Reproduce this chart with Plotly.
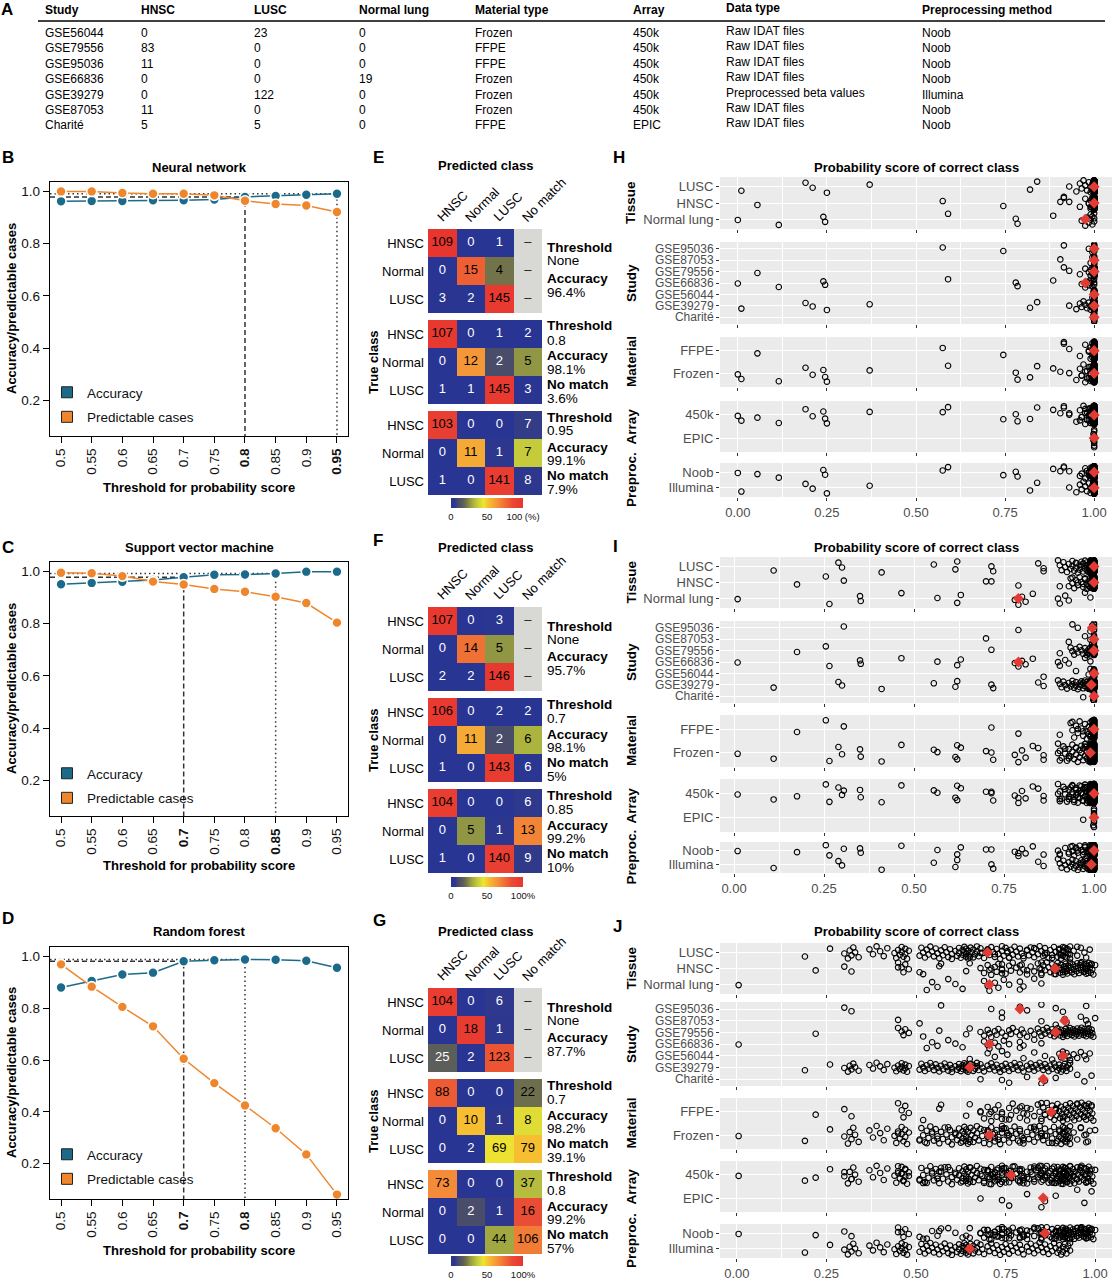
import numpy as np
import plotly.graph_objects as go

W, H = 1112, 1280
FONT = "Liberation Sans, Arial, Helvetica, sans-serif"
TEAL = "#1b6a8a"
ORANGE = "#f0862c"
RED = "#e23b33"
PANEL_BG = "#ebebeb"
GREY_TXT = "#4d4d4d"

# ---------------- Panel A: study table ----------------
TABLE_HEADER = ["Study", "HNSC", "LUSC", "Normal lung", "Material type",
                "Array", "Data type", "Preprocessing method"]
STUDIES = ["GSE56044", "GSE79556", "GSE95036", "GSE66836", "GSE39279", "GSE87053", "Charité"]
N_HNSC = [0, 83, 11, 0, 0, 11, 5]
N_LUSC = [23, 0, 0, 0, 122, 0, 5]
N_NORMAL = [0, 0, 0, 19, 0, 0, 0]
MATERIAL = ["Frozen", "FFPE", "FFPE", "Frozen", "Frozen", "Frozen", "FFPE"]
ARRAY = ["450k", "450k", "450k", "450k", "450k", "450k", "EPIC"]
DATA_TYPE = ["Raw IDAT files", "Raw IDAT files", "Raw IDAT files", "Raw IDAT files",
             "Preprocessed beta values", "Raw IDAT files", "Raw IDAT files"]
PREPROC = ["Noob", "Noob", "Noob", "Noob", "Illumina", "Noob", "Noob"]

# ---------------- Panels B-D: threshold curves ----------------
THRESHOLDS = [0.5, 0.55, 0.6, 0.65, 0.7, 0.75, 0.8, 0.85, 0.9, 0.95]
THRESHOLD_LABELS = ["0.5", "0.55", "0.6", "0.65", "0.7", "0.75", "0.8", "0.85", "0.9", "0.95"]
NN_ACCURACY = [0.962, 0.963, 0.963, 0.966, 0.966, 0.969, 0.979, 0.983, 0.987, 0.991]
NN_PREDICTABLE = [1.0, 1.0, 0.994, 0.991, 0.991, 0.985, 0.964, 0.952, 0.946, 0.921]
NN_SELECTED = [0.8, 0.95]
SVM_ACCURACY = [0.951, 0.956, 0.960, 0.967, 0.978, 0.987, 0.988, 0.992, 0.999, 0.999]
SVM_PREDICTABLE = [0.995, 0.993, 0.982, 0.961, 0.950, 0.933, 0.922, 0.903, 0.879, 0.804]
SVM_SELECTED = [0.7, 0.85]
RF_ACCURACY = [0.880, 0.905, 0.930, 0.937, 0.981, 0.985, 0.988, 0.987, 0.983, 0.956]
RF_PREDICTABLE = [0.969, 0.883, 0.805, 0.730, 0.605, 0.511, 0.425, 0.337, 0.236, 0.081]
RF_SELECTED = [0.7, 0.8]

# ---------------- Panels E-G: confusion matrices ----------------
CM_COLS = ["HNSC", "Normal", "LUSC", "No match"]
CM_ROWS = ["HNSC", "Normal", "LUSC"]
NN_CM = [
    [[109, 0, 1, None], [0, 15, 4, None], [3, 2, 145, None]],
    [[107, 0, 1, 2], [0, 12, 2, 5], [1, 1, 145, 3]],
    [[103, 0, 0, 7], [0, 11, 1, 7], [1, 0, 141, 8]],
]
NN_CM_THRESHOLD = ["None", "0.8", "0.95"]
NN_CM_ACCURACY = ["96.4%", "98.1%", "99.1%"]
NN_CM_NOMATCH = [None, "3.6%", "7.9%"]
SVM_CM = [
    [[107, 0, 3, None], [0, 14, 5, None], [2, 2, 146, None]],
    [[106, 0, 2, 2], [0, 11, 2, 6], [1, 0, 143, 6]],
    [[104, 0, 0, 6], [0, 5, 1, 13], [1, 0, 140, 9]],
]
SVM_CM_THRESHOLD = ["None", "0.7", "0.85"]
SVM_CM_ACCURACY = ["95.7%", "98.1%", "99.2%"]
SVM_CM_NOMATCH = [None, "5%", "10%"]
RF_CM = [
    [[104, 0, 6, None], [0, 18, 1, None], [25, 2, 123, None]],
    [[88, 0, 0, 22], [0, 10, 1, 8], [0, 2, 69, 79]],
    [[73, 0, 0, 37], [0, 2, 1, 16], [0, 0, 44, 106]],
]
RF_CM_THRESHOLD = ["None", "0.7", "0.8"]
RF_CM_ACCURACY = ["87.7%", "98.2%", "99.2%"]
RF_CM_NOMATCH = [None, "39.1%", "57%"]

# ---------------- Panels H-J: probability score of correct class ----------------
# Neural network
NN_GSE56044 = [0.995, 0.998] + [1.0] * 21
NN_GSE79556 = [0.055, 0.915, 0.93, 0.96, 0.975, 0.985, 0.99, 0.99, 0.995, 0.995] + [1.0] * 73
NN_GSE95036 = [0.575, 0.745, 0.915, 0.985, 0.995] + [1.0] * 6
NN_GSE66836 = [0.0, 0.115, 0.24, 0.245, 0.59, 0.78, 0.785, 0.885, 0.965, 0.975,
               0.98, 0.985, 0.99, 0.99, 0.995, 0.995, 1.0, 1.0, 1.0]
NN_GSE39279 = [0.01, 0.19, 0.21, 0.25, 0.37, 0.82, 0.84, 0.93, 0.95, 0.96, 0.965, 0.97,
               0.975, 0.98, 0.985, 0.99, 0.99, 0.995, 0.995, 0.998] + [1.0] * 102
NN_GSE87053 = [0.905, 0.99, 0.995] + [1.0] * 8
NN_CHARITE_HNSC = [0.998, 1.0, 1.0, 1.0, 1.0]
NN_CHARITE_LUSC = [1.0, 1.0, 0.998, 1.0, 1.0]
# Support vector machine
SVM_GSE56044 = [0.86, 0.95, 0.985, 0.99, 0.995] + [1.0] * 18
SVM_GSE79556 = [0.175, 0.255, 0.715, 0.905, 0.935, 0.94, 0.945, 0.95, 0.955, 0.96, 0.965,
                0.97, 0.975, 0.98, 0.98, 0.985, 0.985, 0.99, 0.99, 0.99, 0.995, 0.995,
                0.995] + [1.0] * 60
SVM_GSE95036 = [0.305, 0.79, 0.94, 0.955, 0.99, 0.995] + [1.0] * 5
SVM_GSE66836 = [0.01, 0.265, 0.35, 0.352, 0.465, 0.565, 0.62, 0.63, 0.78, 0.79, 0.80,
                0.81, 0.83, 0.90, 0.905, 0.92, 0.93, 0.975, 0.99]
SVM_GSE39279 = [0.11, 0.29, 0.30, 0.41, 0.555, 0.615, 0.62, 0.715, 0.72, 0.845, 0.86,
                0.90, 0.905, 0.91, 0.915, 0.92, 0.925, 0.93, 0.935, 0.94, 0.94, 0.945,
                0.95, 0.95, 0.955, 0.96, 0.96, 0.965, 0.965, 0.97, 0.97, 0.975, 0.975,
                0.98, 0.98, 0.98, 0.985, 0.985, 0.985] + [0.99] * 22 + [0.995] * 4 + [1.0] * 57
SVM_GSE87053 = [0.70, 0.93, 0.975, 0.99, 0.995] + [1.0] * 6
SVM_CHARITE_HNSC = [0.97, 1.0, 1.0, 1.0, 1.0]
SVM_CHARITE_LUSC = [1.0, 0.998, 1.0, 1.0, 1.0]
# Random forest
RF_GSE56044 = [0.65, 0.70, 0.72, 0.74, 0.755, 0.80, 0.83, 0.86, 0.88, 0.90, 0.905, 0.91,
               0.912, 0.915, 0.92, 0.925, 0.93, 0.94, 0.95, 0.96, 0.97, 0.975, 0.985]
RF_GSE79556 = [0.22, 0.45, 0.46, 0.465, 0.47, 0.48, 0.52, 0.565, 0.64, 0.65, 0.68, 0.69,
               0.70, 0.705, 0.71, 0.72, 0.725, 0.73, 0.74, 0.75, 0.76, 0.765, 0.77, 0.78,
               0.79, 0.795, 0.80, 0.81, 0.82, 0.83, 0.84, 0.845, 0.85, 0.855, 0.86, 0.865,
               0.87, 0.875, 0.88, 0.883, 0.886, 0.89, 0.892, 0.895, 0.90, 0.902, 0.905,
               0.908, 0.91, 0.912, 0.915, 0.918, 0.92, 0.922, 0.925, 0.928, 0.93, 0.932,
               0.935, 0.938, 0.94, 0.942, 0.945, 0.948, 0.95, 0.952, 0.955, 0.958, 0.96,
               0.962, 0.965, 0.968, 0.97, 0.972, 0.975, 0.978, 0.98, 0.982, 0.985, 0.988,
               0.99, 0.992, 0.995]
RF_GSE95036 = [0.30, 0.32, 0.57, 0.71, 0.74, 0.79, 0.81, 0.85, 0.89, 0.91, 0.975]
RF_GSE66836 = [0.005, 0.53, 0.545, 0.56, 0.59, 0.61, 0.63, 0.69, 0.70, 0.705, 0.72, 0.73,
               0.745, 0.76, 0.79, 0.79, 0.80, 0.83, 0.85]
RF_GSE39279 = [0.19, 0.26, 0.30, 0.31, 0.315, 0.32, 0.325, 0.33, 0.34, 0.37, 0.38, 0.39,
               0.40, 0.41, 0.42, 0.44, 0.445, 0.45, 0.455, 0.46, 0.46, 0.465, 0.47, 0.47,
               0.475, 0.48, 0.51, 0.515, 0.52, 0.525, 0.53, 0.535, 0.54, 0.545, 0.55,
               0.555, 0.56, 0.565, 0.57, 0.575, 0.58, 0.585, 0.59, 0.595, 0.60, 0.60,
               0.61, 0.615, 0.62, 0.62, 0.625, 0.63, 0.63, 0.635, 0.635, 0.64, 0.64, 0.64,
               0.645, 0.645, 0.648, 0.652, 0.655, 0.66, 0.66, 0.665, 0.67, 0.67, 0.675,
               0.68, 0.685, 0.69, 0.70, 0.705, 0.71, 0.715, 0.72, 0.725, 0.73, 0.735, 0.74,
               0.745, 0.75, 0.755, 0.76, 0.765, 0.77, 0.775, 0.78, 0.785, 0.79, 0.795, 0.80,
               0.81, 0.815, 0.82, 0.825, 0.83, 0.835, 0.84, 0.845, 0.85, 0.855, 0.86,
               0.865, 0.87, 0.875, 0.88, 0.885, 0.89, 0.895, 0.90, 0.90, 0.905, 0.91,
               0.91, 0.915, 0.92, 0.92, 0.925, 0.93, 0.93]
RF_GSE87053 = [0.45, 0.51, 0.74, 0.85, 0.89, 0.915, 0.92, 0.96, 0.975, 0.98, 1.0]
RF_CHARITE_HNSC = [0.74, 0.85, 0.89, 0.97, 0.99]
RF_CHARITE_LUSC = [0.68, 0.76, 0.81, 0.86, 0.95]

FACETS = [
    ("Tissue", ["Normal lung", "HNSC", "LUSC"]),
    ("Study", ["Charité", "GSE39279", "GSE56044", "GSE66836", "GSE79556", "GSE87053", "GSE95036"]),
    ("Material", ["Frozen", "FFPE"]),
    ("Array", ["EPIC", "450k"]),
    ("Preproc.", ["Illumina", "Noob"]),
]
X_TICKS = [0.0, 0.25, 0.5, 0.75, 1.0]
X_TICKTEXT = ["0.00", "0.25", "0.50", "0.75", "1.00"]
X_MINOR = [0.125, 0.375, 0.625, 0.875]

HEAT_SCALE = [[0.0, "#283593"], [0.05, "#2c3690"], [0.10, "#474c6c"], [0.17, "#5d5f58"],
              [0.22, "#787848"], [0.28, "#9aa242"], [0.36, "#c2c83c"], [0.45, "#ece632"],
              [0.52, "#f6c030"], [0.65, "#f3903a"], [0.75, "#f06c33"], [0.85, "#ea4a35"],
              [1.0, "#e8352f"]]

X_RANGE_LINE = [0.482, 0.968]
Y_RANGE_LINE = [0.064, 1.036]

fig = go.Figure()
AXES, ANN, SHAPES, LEGENDS = {}, [], [], {}
_count = [0]


def new_axes(box, xkw, ykw):
    _count[0] += 1
    i = _count[0]
    sx = "" if i == 1 else str(i)
    x0, y0, x1, y1 = box
    AXES["xaxis" + sx] = dict(domain=[x0 / W, x1 / W], anchor="y" + sx, **xkw)
    AXES["yaxis" + sx] = dict(domain=[1 - y1 / H, 1 - y0 / H], anchor="x" + sx, **ykw)
    return "x" + sx, "y" + sx


def add_text(x, y, s, size=13, bold=False, xanchor="left", yanchor="middle", angle=0, color="black"):
    ANN.append(dict(x=x / W, y=1 - y / H, xref="paper", yref="paper",
                    text=f"<b>{s}</b>" if bold else s, showarrow=False,
                    xanchor=xanchor, yanchor=yanchor, textangle=angle,
                    font=dict(size=size, color=color), borderpad=0))


# ---------------- Panel A ----------------
TABLE_X = [44, 140, 253, 358, 474, 632, 725, 921]
add_text(0, 9, "A", size=17, bold=True)
for j, (cx, h) in enumerate(zip(TABLE_X, TABLE_HEADER)):
    add_text(cx, 10 - (2 if j == 6 else 0), h, size=12, bold=True)
SHAPES.append(dict(type="line", xref="paper", yref="paper", x0=38 / W, x1=1105 / W,
                   y0=1 - 21 / H, y1=1 - 21 / H, line=dict(color="black", width=1.3)))
TABLE_COLUMNS = [STUDIES, N_HNSC, N_LUSC, N_NORMAL, MATERIAL, ARRAY, DATA_TYPE, PREPROC]
for j, col in enumerate(TABLE_COLUMNS):
    for i, v in enumerate(col):
        add_text(TABLE_X[j], 33 + i * 15.4 - (2 if j == 6 else 0), str(v), size=12)

# ---------------- Panels B-D ----------------
LINE_PANELS = [
    dict(letter="B", ly=158, title="Neural network", ty=167, box=(50, 182, 348, 436), xt=487,
         acc=NN_ACCURACY, pred=NN_PREDICTABLE, sel=NN_SELECTED, legend="legend", lg=377),
    dict(letter="C", ly=547, title="Support vector machine", ty=547, box=(50, 562, 348, 816), xt=865,
         acc=SVM_ACCURACY, pred=SVM_PREDICTABLE, sel=SVM_SELECTED, legend="legend2", lg=758),
    dict(letter="D", ly=918, title="Random forest", ty=931, box=(50, 947, 348, 1199), xt=1250,
         acc=RF_ACCURACY, pred=RF_PREDICTABLE, sel=RF_SELECTED, legend="legend3", lg=1139),
]
for p in LINE_PANELS:
    x0, y0, x1, y1 = p["box"]
    ticktext = [f"<b>{l}</b>" if t in p["sel"] else l for t, l in zip(THRESHOLDS, THRESHOLD_LABELS)]
    common = dict(showline=True, mirror=True, linecolor="black", linewidth=1.3, ticks="outside",
                  ticklen=6, tickwidth=1.2, tickcolor="black", showgrid=False, zeroline=False,
                  tickfont=dict(size=13.5, color="#111"))
    xa, ya = new_axes(p["box"],
                      dict(range=X_RANGE_LINE, tickvals=THRESHOLDS, ticktext=ticktext, tickangle=-90, **common),
                      dict(range=Y_RANGE_LINE, tickvals=[0.2, 0.4, 0.6, 0.8, 1.0],
                           ticktext=["0.2", "0.4", "0.6", "0.8", "1.0"], **common))
    for t, dash in zip(p["sel"], ["5px,3px", "1.5px,3px"]):
        a = p["acc"][THRESHOLDS.index(t)]
        fig.add_trace(go.Scatter(x=[X_RANGE_LINE[0], t, t], y=[a, a, Y_RANGE_LINE[0]], mode="lines",
                                 line=dict(color="#333333", width=1.5, dash=dash),
                                 xaxis=xa, yaxis=ya, showlegend=False, hoverinfo="skip"))
    for vals, color in [(p["acc"], TEAL), (p["pred"], ORANGE)]:
        fig.add_trace(go.Scatter(x=THRESHOLDS, y=vals, mode="lines+markers",
                                 line=dict(color=color, width=1.5),
                                 marker=dict(size=10, color=color, line=dict(color="white", width=1.6)),
                                 xaxis=xa, yaxis=ya, showlegend=False, hoverinfo="skip"))
    for name, color in [("Accuracy", TEAL), ("Predictable cases", ORANGE)]:
        fig.add_trace(go.Scatter(x=[None], y=[None], mode="markers", name=name,
                                 marker=dict(symbol="square", size=11, color=color,
                                             line=dict(color="#222", width=1)),
                                 legend=p["legend"], legendgroup=p["legend"] + name,
                                 xaxis=xa, yaxis=ya))
    LEGENDS[p["legend"]] = dict(x=47 / W, y=1 - p["lg"] / H, xanchor="left", yanchor="top",
                                bgcolor="rgba(0,0,0,0)", font=dict(size=13.5, color="#111"),
                                tracegroupgap=4, itemwidth=30)
    add_text(1, p["ly"], p["letter"], size=17, bold=True)
    add_text((x0 + x1) / 2, p["ty"], p["title"], size=13, bold=True, xanchor="center")
    add_text((x0 + x1) / 2, p["xt"], "Threshold for probability score", size=13, bold=True, xanchor="center")
    add_text(11, (y0 + y1) / 2, "Accuracy/predictable cases", size=13, bold=True, xanchor="center", angle=-90)

# ---------------- Panels E-G ----------------
CM_PANELS = [
    dict(letter="E", ly=157, ty=166, blocks=[(229, 313), (320, 404), (411, 495)], cb=498, cbl="100 (%)",
         cms=NN_CM, thr=NN_CM_THRESHOLD, acc=NN_CM_ACCURACY, nm=NN_CM_NOMATCH),
    dict(letter="F", ly=540, ty=547, blocks=[(607, 691), (698, 782), (789, 873)], cb=877, cbl="100%",
         cms=SVM_CM, thr=SVM_CM_THRESHOLD, acc=SVM_CM_ACCURACY, nm=SVM_CM_NOMATCH),
    dict(letter="G", ly=920, ty=931, blocks=[(988, 1072), (1079, 1163), (1170, 1254)], cb=1256, cbl="100%",
         cms=RF_CM, thr=RF_CM_THRESHOLD, acc=RF_CM_ACCURACY, nm=RF_CM_NOMATCH),
]
for p in CM_PANELS:
    first_xa = None
    for b, ((y0, y1), cm) in enumerate(zip(p["blocks"], p["cms"])):
        xa, ya = new_axes((428, y0, 542, y1),
                          dict(type="category", categoryorder="array", categoryarray=CM_COLS,
                               range=[-0.5, 3.5], showticklabels=False, showgrid=False,
                               zeroline=False, showline=False, ticks=""),
                          dict(type="category", categoryorder="array", categoryarray=CM_ROWS[::-1],
                               range=[-0.5, 2.5], showgrid=False, zeroline=False, showline=False,
                               ticks="", ticklabelstandoff=3, tickfont=dict(size=13, color="black")))
        if first_xa is None:
            first_xa = xa
        z, xs, ys, txt, tcol, grey = [], [], [], [], [], []
        for r, row in enumerate(cm):
            total = sum(v for v in row if v is not None)
            zr, gr = [], []
            for c, v in enumerate(row):
                xs.append(CM_COLS[c])
                ys.append(CM_ROWS[r])
                if v is None:
                    zr.append(None)
                    gr.append(1)
                    txt.append("–")
                    tcol.append("#222222")
                else:
                    pct = 100.0 * v / total
                    zr.append(pct)
                    gr.append(None)
                    txt.append(str(v))
                    tcol.append("white" if pct < 18 else "black")
            z.append(zr)
            grey.append(gr)
        if any(g is not None for gr in grey for g in gr):
            fig.add_trace(go.Heatmap(x=CM_COLS, y=CM_ROWS, z=grey, zmin=0, zmax=1,
                                     colorscale=[[0, "#d8d8d5"], [1, "#d8d8d5"]], showscale=False,
                                     xaxis=xa, yaxis=ya, hoverinfo="skip"))
        fig.add_trace(go.Heatmap(
            x=CM_COLS, y=CM_ROWS, z=z, zmin=0, zmax=100, colorscale=HEAT_SCALE,
            showscale=(b == 2), xaxis=xa, yaxis=ya, hoverinfo="skip",
            colorbar=dict(orientation="h", x=487 / W, xanchor="center", y=1 - p["cb"] / H,
                          yanchor="top", len=72, lenmode="pixels", thickness=10,
                          thicknessmode="pixels", tickvals=[0, 50, 100],
                          ticktext=["0", "50", p["cbl"]], ticks="", outlinewidth=0,
                          tickfont=dict(size=9.5, color="#111"), xpad=0, ypad=0)))
        fig.add_trace(go.Scatter(x=xs, y=ys, mode="text", text=txt,
                                 textfont=dict(size=13, color=tcol), xaxis=xa, yaxis=ya,
                                 showlegend=False, hoverinfo="skip"))
        cy = (y0 + y1) / 2
        if p["nm"][b] is None:
            lines = [("Threshold", True, -23), (p["thr"][b], False, -10),
                     ("Accuracy", True, 7), (p["acc"][b], False, 21)]
        else:
            lines = [("Threshold", True, -36), (p["thr"][b], False, -22),
                     ("Accuracy", True, -6), (p["acc"][b], False, 7),
                     ("No match", True, 22), (p["nm"][b], False, 36)]
        for s, bold, dy in lines:
            add_text(546, cy + dy, s, size=13.5, bold=bold)
    top = p["blocks"][0][0]
    for col in CM_COLS:
        ANN.append(dict(x=col, y=1 - (top - 3) / H, xref=first_xa, yref="paper", text=col,
                        showarrow=False, textangle=-45, xanchor="left", yanchor="bottom",
                        xshift=-10, font=dict(size=13, color="black"), borderpad=0))
    add_text(372, p["ly"], p["letter"], size=17, bold=True)
    add_text(485, p["ty"], "Predicted class", size=13, bold=True, xanchor="center")
    mid = (p["blocks"][1][0] + p["blocks"][1][1]) / 2
    add_text(373, mid, "True class", size=13, bold=True, xanchor="center", angle=-90)

# ---------------- Panels H-J ----------------
STRIP_PANELS = [
    dict(letter="H", ly=158, ty=167, xr=[-0.05, 1.05],
         facets=[(177, 229), (242, 324), (337, 387), (401, 452), (463, 497)],
         groups=[("GSE56044", "LUSC", NN_GSE56044), ("GSE79556", "HNSC", NN_GSE79556),
                 ("GSE95036", "HNSC", NN_GSE95036), ("GSE66836", "Normal lung", NN_GSE66836),
                 ("GSE39279", "LUSC", NN_GSE39279), ("GSE87053", "HNSC", NN_GSE87053),
                 ("Charité", "HNSC", NN_CHARITE_HNSC), ("Charité", "LUSC", NN_CHARITE_LUSC)]),
    dict(letter="I", ly=546, ty=547, xr=[-0.039, 1.05],
         facets=[(557, 608), (621, 703), (715, 767), (779, 832), (842, 873)],
         groups=[("GSE56044", "LUSC", SVM_GSE56044), ("GSE79556", "HNSC", SVM_GSE79556),
                 ("GSE95036", "HNSC", SVM_GSE95036), ("GSE66836", "Normal lung", SVM_GSE66836),
                 ("GSE39279", "LUSC", SVM_GSE39279), ("GSE87053", "HNSC", SVM_GSE87053),
                 ("Charité", "HNSC", SVM_CHARITE_HNSC), ("Charité", "LUSC", SVM_CHARITE_LUSC)]),
    dict(letter="J", ly=926, ty=931, xr=[-0.047, 1.047],
         facets=[(943, 994), (1002, 1086), (1098, 1149), (1161, 1212), (1224, 1258)],
         groups=[("GSE56044", "LUSC", RF_GSE56044), ("GSE79556", "HNSC", RF_GSE79556),
                 ("GSE95036", "HNSC", RF_GSE95036), ("GSE66836", "Normal lung", RF_GSE66836),
                 ("GSE39279", "LUSC", RF_GSE39279), ("GSE87053", "HNSC", RF_GSE87053),
                 ("Charité", "HNSC", RF_CHARITE_HNSC), ("Charité", "LUSC", RF_CHARITE_LUSC)]),
]


def jitter(i):
    return ((i * 0.6180339887 + 0.137) % 1.0 - 0.5) * 0.8


for p in STRIP_PANELS:
    samples = []
    for study, tissue, vals in p["groups"]:
        k = STUDIES.index(study)
        attrs = {"Tissue": tissue, "Study": study, "Material": MATERIAL[k],
                 "Array": ARRAY[k], "Preproc.": PREPROC[k]}
        for v in vals:
            samples.append((v, attrs))
    for f, ((name, order), (y0, y1)) in enumerate(zip(FACETS, p["facets"])):
        last = f == len(FACETS) - 1
        lab_size = 12 if len(order) > 5 else 13
        xa, ya = new_axes(
            (720, y0, 1112, y1),
            dict(range=p["xr"], tickvals=X_TICKS, ticktext=X_TICKTEXT, showticklabels=last,
                 ticks="outside", ticklen=3, tickwidth=1.1, tickcolor="#333333", showgrid=True,
                 gridcolor="white", gridwidth=1.1, zeroline=False, showline=False,
                 tickfont=dict(size=13, color=GREY_TXT),
                 minor=dict(tickvals=X_MINOR, showgrid=True, gridcolor="white", gridwidth=0.5, ticks="")),
            dict(range=[0.4, len(order) + 0.6], tickvals=list(range(1, len(order) + 1)),
                 ticktext=order, ticks="outside", ticklen=3, tickwidth=1.1, tickcolor="#333333",
                 showgrid=True, gridcolor="white", gridwidth=1.1, zeroline=False, showline=False,
                 tickfont=dict(size=lab_size, color=GREY_TXT)))
        SHAPES.append(dict(type="rect", xref=f"{xa} domain", yref=f"{ya} domain", x0=0, x1=1,
                           y0=0, y1=1, fillcolor=PANEL_BG, line=dict(width=0), layer="below"))
        xs = [v for v, a in samples]
        ys = [order.index(a[name]) + 1 + jitter(i) for i, (v, a) in enumerate(samples)]
        fig.add_trace(go.Scatter(x=xs, y=ys, mode="markers",
                                 marker=dict(symbol="circle-open", size=5.5, color="black",
                                             line=dict(width=1.1)),
                                 xaxis=xa, yaxis=ya, showlegend=False, hoverinfo="skip"))
        mx, my = [], []
        for c, cat in enumerate(order):
            vals = [v for v, a in samples if a[name] == cat]
            mx.append(float(np.median(vals)))
            my.append(c + 1)
        fig.add_trace(go.Scatter(x=mx, y=my, mode="markers",
                                 marker=dict(symbol="diamond", size=8.5, color=RED),
                                 xaxis=xa, yaxis=ya, showlegend=False, hoverinfo="skip"))
        add_text(631, (y0 + y1) / 2, name, size=13.5, bold=True, xanchor="center", angle=-90)
    add_text(612, p["ly"], p["letter"], size=17, bold=True)
    add_text(916, p["ty"], "Probability score of correct class", size=13, bold=True, xanchor="center")

fig.update_layout(width=W, height=H, margin=dict(l=0, r=0, t=0, b=0, pad=0),
                  paper_bgcolor="white", plot_bgcolor="white", hovermode=False,
                  font=dict(family=FONT, size=13, color="black"),
                  annotations=ANN, shapes=SHAPES, **AXES, **LEGENDS)

fig.write_html("out.html", config={"displayModeBar": False},
               post_script="document.body.style.margin='0px';")
